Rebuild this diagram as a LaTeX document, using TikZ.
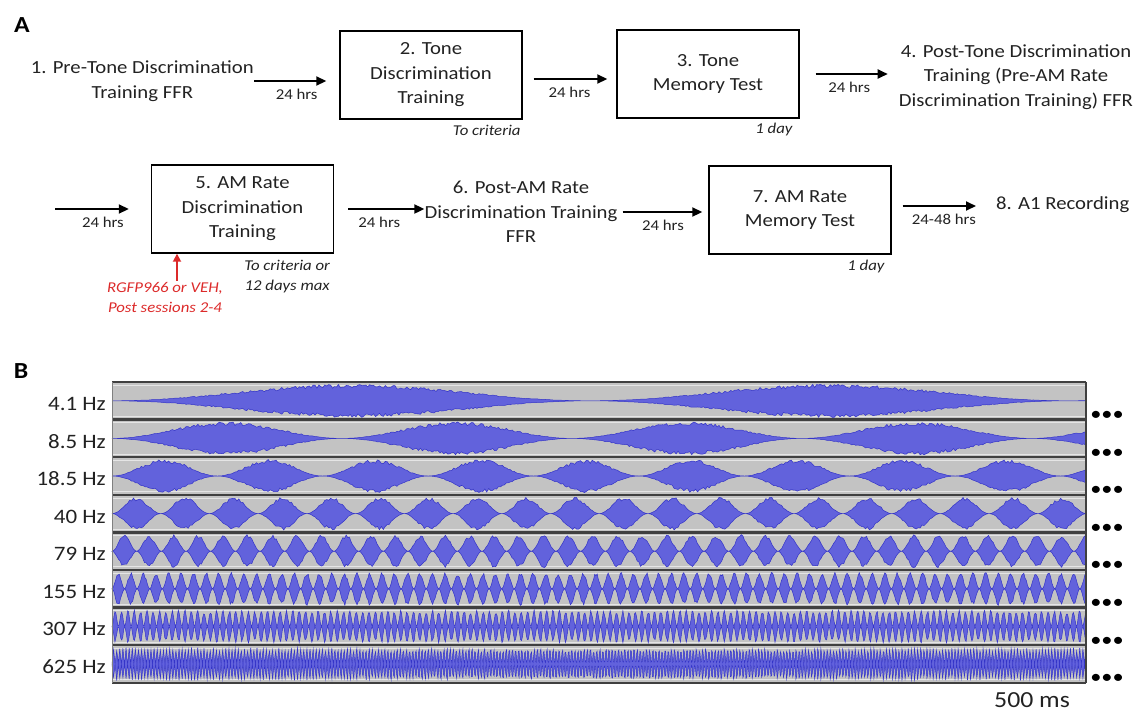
\documentclass[tikz,border=0pt]{standalone}
\usepackage{fontspec}
\setmainfont{Carlito}[FakeStretch=1.12]
\usetikzlibrary{arrows.meta,positioning,calc}
\definecolor{waveBlue}{HTML}{6262DC}
\definecolor{waveEdge}{HTML}{3434C8}
\definecolor{trackGray}{HTML}{C3C3C3}
\definecolor{drugRed}{HTML}{DC2A2A}
\definecolor{inkGray}{HTML}{222222}

\begin{document}
\begin{tikzpicture}[x=1pt,y=-1pt,
  every node/.style={text=inkGray},
  txt/.style={font=\fontsize{18.5}{24.5}\selectfont,align=center,inner sep=0pt},
  stage/.style={txt,draw=black,line width=1.4pt,minimum width=182pt,minimum height=88pt},
  note/.style={font=\fontsize{15}{20}\selectfont\itshape,align=center,inner sep=1pt},
  gap/.style={font=\fontsize{15}{18}\selectfont,below=7pt,midway,inner sep=0pt},
  flow/.style={-{Triangle[length=10pt,width=9pt]},line width=1.8pt,black},
  dose/.style={-{Triangle[length=8pt,width=8pt]},line width=1.7pt,drugRed},
  panel/.style={font=\fontsize{23}{23}\selectfont\bfseries,inner sep=0pt,text=black}]
\useasboundingbox (0,0) rectangle (1137,713);
\pgfmathsetseed{7}

% panel A: timeline
\node[panel] (labA) at (22,25) {A};
\node[txt,anchor=east] (n1) at (254,81) {1. Pre-Tone Discrimination\\Training FFR};
\node[stage] (b2) at (431,75) {2. Tone\\Discrimination\\Training};
\node[stage] (b3) at (708,74) {3. Tone\\Memory Test};
\node[txt] (n4) at (1016,77) {4. Post-Tone Discrimination\\Training (Pre-AM Rate\\Discrimination Training) FFR};
\node[note,anchor=north east,xshift=-1pt,yshift=-4pt] (crit2) at (b2.south east) {To criteria};
\node[note,anchor=north east,xshift=-6pt,yshift=-3pt] (day3) at (b3.south east) {1 day};

\coordinate (o2) at ([yshift=-4pt]b2.east);
\draw[flow,shorten >=13pt] (n1.east) -- (n1.east -| b2.west) node[gap] {24 hrs};
\draw[flow,shorten <=11pt,shorten >=9pt] (o2) -- (o2 -| b3.west) node[gap] {24 hrs};
\draw[flow,shorten <=16pt,shorten >=11pt] (b3.east) -- (b3.east -| n4.west) node[gap] {24 hrs};

\coordinate (start) at (55,209);
\node[stage] (b5) at (242.5,209) {5. AM Rate\\Discrimination\\Training};
\node[txt] (n6) at (521,212) {6. Post-AM Rate\\Discrimination Training\\FFR};
\node[stage] (b7) at (800,210) {7. AM Rate\\Memory Test};
\node[txt,anchor=west] (n8) at (996,205) {8. A1 Recording};
\node[note,anchor=north east,xshift=-3pt,yshift=-5pt] (crit5) at (b5.south east) {To criteria or\\12 days max};
\node[note,anchor=north east,xshift=-6pt,yshift=-4pt] (day7) at (b7.south east) {1 day};
\node[note,text=drugRed] (drug) at (165,297) {RGFP966 or VEH,\\Post sessions 2-4};

\coordinate (o7) at ([yshift=4pt]b7.east);
\coordinate (tip) at ([xshift=12pt]drug.north);
\draw[flow,shorten >=22pt] (start) -- (start -| b5.west) node[gap] {24 hrs};
\draw[flow,shorten <=14pt] (b5.east) -- (b5.east -| n6.west) node[gap] {24 hrs};
\draw[flow,shorten <=5pt,shorten >=6pt] (n6.east) -- (n6.east -| b7.west) node[gap] {24 hrs};
\draw[flow,shorten <=11pt,shorten >=20pt] (o7) -- (o7 -| n8.west) node[gap] {24-48 hrs};
\draw[dose] (tip) -- (tip |- b5.south);

% panel B: AM stimuli
\node[panel] (labB) at (21,371) {B};
\foreach \freq/\row/\ns in {4.1/0/500,8.5/1/500,18.5/2/500,40/3/500,79/4/600,155/5/800,307/6/1000,625/7/1250}{
  \pgfmathsetmacro\ytop{382+37.6*\row}
  \pgfmathsetmacro\ymid{\ytop+18.8}
  \pgfmathsetmacro\rate{\freq/1948}
  \fill[trackGray] (112,\ytop) rectangle (1086,\ytop+37.6);
  \draw[white!80!gray,line width=0.8pt] (112,\ytop+3.2) -- (1086,\ytop+3.2)
    (112,\ytop+34.4) -- (1086,\ytop+34.4);
  \fill[waveBlue,draw=waveEdge,line width=0.5pt]
    plot[domain=0:974,samples=\ns,variable=\t] (112+\t,{\ymid-16*(0.8+0.24*rnd)*(1-cos(360*frac(\t*\rate)))/2})
    -- plot[domain=974:0,samples=\ns,variable=\t] (112+\t,{\ymid+16*(0.8+0.24*rnd)*(1-cos(360*frac(\t*\rate)))/2})
    -- cycle;
  \node[font=\fontsize{20.5}{22}\selectfont,anchor=east,inner sep=0pt] (hz\row) at (106,\ymid+3) {\freq~Hz};
  \node[font=\fontsize{20}{20}\selectfont,inner sep=0pt,text=black] (dots\row) at (1107,\ytop+34) {•••};
}
\foreach \row in {0,...,8}
  \draw[black!75,line width=2.4pt] (112,382+37.6*\row) -- (1086,382+37.6*\row);
\draw[gray,line width=0.8pt] (112,382) -- (112,683);
\draw[black!75,line width=2pt] (1086,382) -- (1086,683);
\node[font=\fontsize{23}{23}\selectfont,inner sep=0pt] (scale) at (1032,700) {500 ms};
\end{tikzpicture}
\end{document}
